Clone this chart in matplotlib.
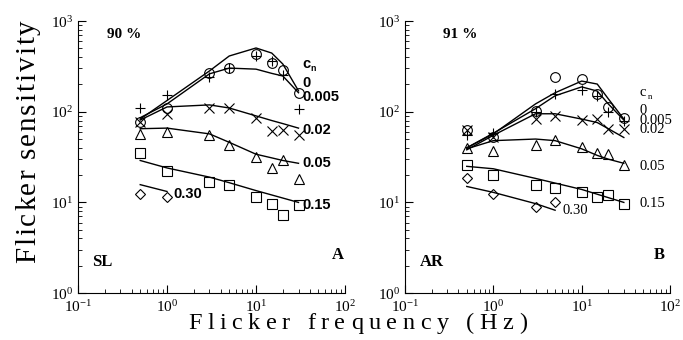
import matplotlib
matplotlib.use("Agg")
import matplotlib.pyplot as plt

plt.rcParams['font.family'] = 'Liberation Serif'
plt.rcParams['mathtext.fontset'] = 'stix'

freqs = [0.5, 1, 3, 5, 10, 15, 20, 30]
conc = ['0', '0.005', '0.02', '0.05', '0.15', '0.30']

# panel A (SL) measured points
sl_c0 = [78, 110, 268, 303, 434, 345, 290, 162]
sl_c005 = [110, 154, 243, 300, 412, 363, 255, 108]
sl_c02 = [78, 95, 110, 110, 86, 62, 63, 55]
sl_c05 = [57, 60, 55, 43, 32, 24, 29, 18]
sl_c15 = [35, 22, 17, 15.7, 11.6, 9.5, 7.2, 9.3]
sl_c30_f = [0.5, 1]
sl_c30 = [12.5, 11.4]

# panel A fitted curves
sl_fit_c0 = [83, 133, 282, 412, 505, 444, 336, 170]
sl_fit_c005 = [86, 122, 262, 303, 295, 265, 248, 162]
sl_fit_c02 = [81, 113, 119, 110, 90, 80, 74, 66]
sl_fit_c05 = [65, 66, 57, 46, 34, 31, 29, 27]
sl_fit_c15_f = [0.5, 1, 3, 5, 10, 30]
sl_fit_c15 = [29, 24, 19, 16.5, 13.5, 10]
sl_fit_c30_f = [0.5, 1]
sl_fit_c30 = [15.7, 13.2]

# panel B (AR) measured points
ar_c0 = [63, 53, 102, 242, 230, 158, 113, 86]
ar_c005 = [55, 58, 100, 158, 174, 150, 100, 79]
ar_c02 = [63, 53, 83, 90, 81, 83, 65, 65]
ar_c05 = [40, 37, 43, 49, 41, 35, 34, 26]
ar_c15 = [26, 20.3, 15.4, 14.6, 12.9, 11.4, 12.2, 9.7]
ar_c30_f = [0.5, 1, 3, 5]
ar_c30 = [18.8, 12.5, 9, 10.2]

# panel B fitted curves
ar_fit_c0 = [40, 57, 122, 162, 218, 202, 139, 83]
ar_fit_c005 = [40, 58, 108, 150, 188, 169, 122, 81]
ar_fit_c02 = [38, 55, 95, 95, 83, 76, 65, 52]
ar_fit_c05 = [39, 48, 50, 48, 39, 33, 30, 27]
ar_fit_c15_f = [0.5, 1, 3, 10, 30]
ar_fit_c15 = [25, 23.5, 18.4, 13.9, 10]
ar_fit_c30_f = [0.5, 1, 3, 5]
ar_fit_c30 = [15, 12.9, 9.7, 8.2]

# where the c_n labels sit (y in data units), c_n header first
sl_label_y = [305, 208, 146, 63.4, 27.5, 9.27]
ar_label_y = [150, 103, 80, 63, 24.9, 9.75]

markers = ['o', '+', 'x', '^', 's', 'D']
msizes = [7, 7, 7, 6.5, 6.5, 5]


def setup_axes(ax):
    ax.set_xscale('log')
    ax.set_yscale('log')
    ax.set_xlim(0.1, 100)
    ax.set_ylim(1, 1000)
    ax.spines['top'].set_visible(False)
    ax.spines['right'].set_visible(False)
    ax.tick_params(which='both', direction='in', labelsize=11)
    ax.tick_params(which='major', length=6, width=0.8)
    ax.tick_params(which='minor', length=3, width=0.6)
    ax.tick_params(axis='x', pad=4)


def draw_panel(ax, points, fits, font, fsize, label_y, label_x, c30_pos):
    setup_axes(ax)
    for (fx, fy) in fits:
        ax.plot(fx, fy, color='black', lw=1)
    for i, (px, py) in enumerate(points):
        m = markers[i]
        if m in ('+', 'x'):
            ax.plot(px, py, m, color='black', ms=msizes[i], mew=0.8, ls='none')
        else:
            ax.plot(px, py, m, mfc='none', mec='black', ms=msizes[i], mew=0.8, ls='none')
    ax.text(label_x, label_y[0], 'c', fontsize=fsize, ha='left', va='baseline', **font)
    ax.annotate('n', (label_x, label_y[0]), xytext=(6, -2), textcoords='offset points',
                fontsize=fsize * 0.6, ha='left', va='baseline', **font)
    for txt, y in zip(conc[:5], label_y[1:]):
        ax.text(label_x, y, txt, fontsize=fsize, ha='left', va='center', **font)
    ax.text(c30_pos[0], c30_pos[1], conc[5], fontsize=fsize, ha='left', va='center',
            **font)


def spaced_text(fig, s, start, end, base, size, vertical=False):
    # draw s letter by letter so that it spans start..end pixels (letter-spaced)
    r = fig.canvas.get_renderer()

    def width(txt):
        t = fig.text(0, 0, txt + '|', fontsize=size)
        w = t.get_window_extent(r).width
        t.remove()
        t = fig.text(0, 0, '|', fontsize=size)
        w -= t.get_window_extent(r).width
        t.remove()
        return w

    total = width(s)
    track = (abs(end - start) - total) / (len(s) - 1)
    W, H = fig.bbox.width, fig.bbox.height
    for i, ch in enumerate(s):
        off = width(s[:i]) + i * track if i else 0
        if vertical:
            x, y, rot = base / W, 1 - (start - off) / H, 90
        else:
            x, y, rot = (start + off) / W, 1 - base / H, 0
        fig.text(x, y, ch, fontsize=size, rotation=rot, rotation_mode='anchor',
                 ha='left', va='baseline')


fig = plt.figure(figsize=(6.83, 3.40), dpi=100)
ax1 = fig.add_axes([0.1142, 0.138, 0.391, 0.8])
ax2 = fig.add_axes([0.593, 0.138, 0.388, 0.8])

sl_points = [(freqs, sl_c0), (freqs, sl_c005), (freqs, sl_c02), (freqs, sl_c05),
             (freqs, sl_c15), (sl_c30_f, sl_c30)]
sl_fits = [(freqs, sl_fit_c0), (freqs, sl_fit_c005), (freqs, sl_fit_c02),
           (freqs, sl_fit_c05), (sl_fit_c15_f, sl_fit_c15), (sl_fit_c30_f, sl_fit_c30)]
draw_panel(ax1, sl_points, sl_fits,
           dict(family='Liberation Sans', fontweight='bold'), 10.5,
           sl_label_y, 33, (1.17, 12.5))

ar_points = [(freqs, ar_c0), (freqs, ar_c005), (freqs, ar_c02), (freqs, ar_c05),
             (freqs, ar_c15), (ar_c30_f, ar_c30)]
ar_fits = [(freqs, ar_fit_c0), (freqs, ar_fit_c005), (freqs, ar_fit_c02),
           (freqs, ar_fit_c05), (ar_fit_c15_f, ar_fit_c15), (ar_fit_c30_f, ar_fit_c30)]
draw_panel(ax2, ar_points, ar_fits,
           dict(family='Liberation Serif'), 10.5,
           ar_label_y, 45, (6.1, 8.2))

ax1.text(0.212, 719, '90 %', fontsize=11, fontweight='bold', ha='left', va='center')
ax2.text(0.269, 719, '91 %', fontsize=11, fontweight='bold', ha='left', va='center')
ax1.text(0.144, 2.19, 'SL', fontsize=12, fontweight='bold', ha='left', va='center')
ax2.text(0.148, 2.19, 'AR', fontsize=12, fontweight='bold', ha='left', va='center')
ax1.text(83, 2.62, 'A', fontsize=12, fontweight='bold', ha='center', va='center')
ax2.text(75, 2.62, 'B', fontsize=12, fontweight='bold', ha='center', va='center')

spaced_text(fig, 'Flicker frequency (Hz)', 188, 527, 329, 17.5)
spaced_text(fig, 'Flicker sensitivity', 263, 20, 35, 21, vertical=True)

fig.savefig('out.png', dpi=100)
